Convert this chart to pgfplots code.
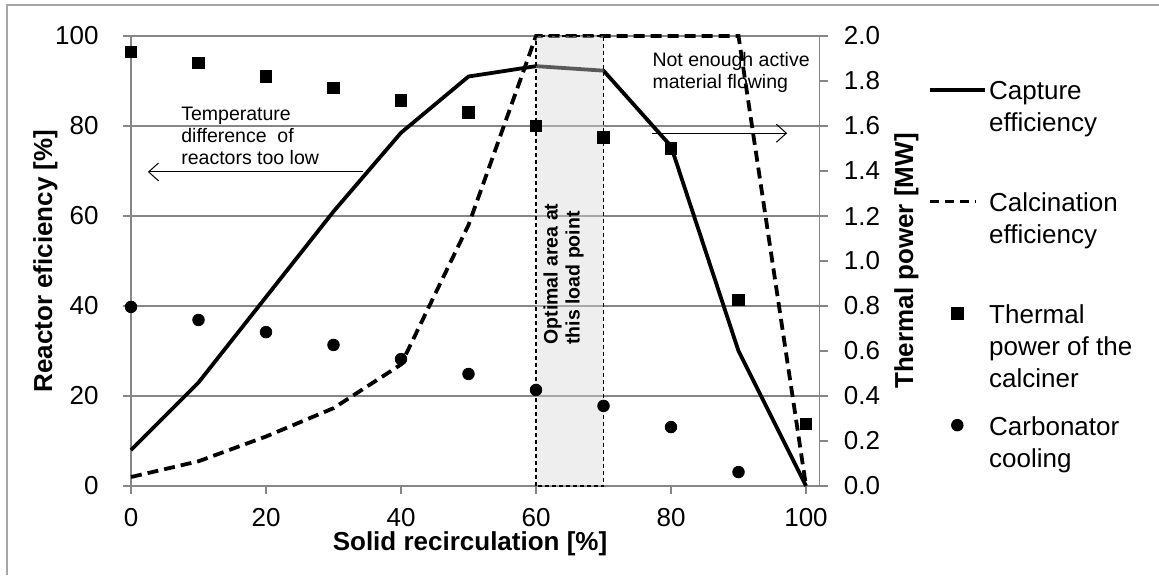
\documentclass[border=0pt]{standalone}
\usepackage{pgfplots}
\pgfplotsset{compat=1.18}
\usepackage{fontspec}
\setmainfont{Liberation Sans}[BoldFont={Liberation Sans Bold}]
\usetikzlibrary{arrows.meta}

\definecolor{gridgray}{RGB}{134,134,134}
\definecolor{boxfill}{RGB}{214,214,214}

\pgfplotsset{
  every axis/.append style={
    scale only axis, width=344.25pt, height=225pt,
    xmin=0, xmax=102, clip=false,
    tick align=outside, major tick length=4pt,
    tick style={gridgray, line width=0.6pt},
    axis line style={gridgray, line width=0.6pt, -},
    /pgf/number format/assume math mode=true,
    tick label style={font=\fontsize{13}{16}\selectfont, inner sep=0pt},
  },
  lineleg/.style={legend image code/.code={\draw[##1] (0pt,5pt) -- (#1,5pt);}},
  markleg/.style={legend image code/.code={\path[draw=none] (0pt,5pt) -- (27.5pt,5pt);
    \draw[##1] plot coordinates {(13.5pt,5pt)};}},
}

\begin{document}
\begin{tikzpicture}[font=\fontsize{13}{16}\selectfont]
\path[use as bounding box] (0pt,0pt) rectangle (579.5pt,-287.5pt);
\draw[gray!70, line width=0.75pt] (3.5pt,-287.5pt) -- (3.5pt,-2.5pt) -- (579.5pt,-2.5pt);

% left axis: efficiencies
\begin{axis}[
  at={(65.5pt,-243pt)}, anchor=south west,
  ymin=0, ymax=100,
  axis y line*=left, axis x line*=bottom,
  xtick={0,20,...,100}, ytick={0,20,...,100},
  ymajorgrids, grid style={gridgray, line width=0.6pt},
  xticklabel style={anchor=north, yshift=-7pt},
  yticklabel style={anchor=east, xshift=-12pt},
  xlabel={Solid recirculation [\%]},
  ylabel={Reactor eficiency [\%]},
  every axis x label/.style={at={(axis description cs:0.4924,-0.1444)}, anchor=base,
    font=\fontsize{13}{16}\selectfont\bfseries},
  every axis y label/.style={at={(axis description cs:-0.1147,0.5)}, rotate=90, anchor=base,
    font=\fontsize{13}{16}\selectfont\bfseries},
]
\addplot[black, line width=1.9pt] coordinates {
  (0,8) (10,23) (20,42) (30,61) (40,78.5) (50,91) (60,93.3) (70,92.3) (80,75.5) (90,30) (100,0)
};
\addplot[black, line width=1.9pt, dash pattern=on 5.5pt off 3pt] coordinates {
  (0,2) (10,5.5) (20,11) (30,17.3) (40,27) (50,58) (60,100) (70,100) (80,100) (90,100) (100,0)
};
\node[anchor=west, align=left, font=\fontsize{9.75}{11}\selectfont, inner sep=0pt]
  at (axis cs:7.4,77.9) {Temperature\\difference\ \ of\\reactors too low};
\draw[-{Straight Barb[length=5pt,width=9pt]}, line width=0.5pt]
  (axis cs:34.4,69.8) -- (axis cs:2.5,69.8);
\node[anchor=west, align=left, font=\fontsize{9.75}{11}\selectfont, inner sep=0pt]
  at (axis cs:77.2,91.9) {Not enough active\\material flowing};
\draw[-{Straight Barb[length=5pt,width=9pt]}, line width=0.5pt]
  (axis cs:77.2,78.4) -- (axis cs:97.2,78.4);
\end{axis}

% right axis: thermal power
\begin{axis}[
  at={(65.5pt,-243pt)}, anchor=south west,
  ymin=0, ymax=2,
  axis y line*=right, axis x line=none,
  ytick={0,0.2,0.4,0.6,0.8,1.0,1.2,1.4,1.6,1.8,2.0},
  yticklabel style={anchor=west, xshift=8pt,
    /pgf/number format/.cd, fixed, fixed zerofill, precision=1},
  ylabel={Thermal power [MW]},
  every axis y label/.style={at={(axis description cs:1.1358,0.5)}, rotate=90, anchor=base,
    font=\fontsize{13}{16}\selectfont\bfseries},
  legend style={at={(axis description cs:1.1576,0.8998)}, anchor=north west,
    draw=none, fill=none, inner sep=0pt, row sep=45pt, column sep=1pt,
    cells={anchor=base west}, nodes={inner sep=0pt},
    font=\fontsize{13}{16}\selectfont},
]
\addlegendimage{black, line width=1.9pt, lineleg=27.5pt}
\addlegendentry{\parbox[t]{4cm}{Capture\\efficiency}}
\addlegendimage{black, line width=1.9pt, dash pattern=on 4.5pt off 3pt, lineleg=23pt}
\addlegendentry{\parbox[t]{4cm}{Calcination\\efficiency}}
\addplot[only marks, mark=square*, mark size=2.9pt, mark options={black, fill=black}, markleg]
  coordinates {
  (0,1.93) (10,1.88) (20,1.82) (30,1.77) (40,1.715) (50,1.66) (60,1.60) (70,1.55) (80,1.50) (90,0.827) (100,0.276)
};
\addlegendentry{\parbox[t]{4cm}{Thermal\\power of the\\calciner}}
\addplot[only marks, mark=*, mark size=2.9pt, mark options={black, fill=black}, markleg]
  coordinates {
  (0,0.796) (10,0.738) (20,0.684) (30,0.627) (40,0.564) (50,0.498) (60,0.427) (70,0.356) (80,0.262) (90,0.062)
};
\addlegendentry{\parbox[t]{4cm}{Carbonator\\cooling}}
% optimal area box
\addplot[forget plot, draw=black, line width=0.75pt, dash pattern=on 2pt off 1.5pt,
  fill=boxfill, fill opacity=0.42] coordinates {(60,0) (60,2) (70,2) (70,0) (60,0)};
\node[rotate=90, align=left, font=\fontsize{9.75}{11}\selectfont, inner sep=0pt]
  at (axis cs:64.1,0.942) {\textbf{Optimal area at}\\\textbf{this load point}};
\end{axis}
\end{tikzpicture}
\end{document}
